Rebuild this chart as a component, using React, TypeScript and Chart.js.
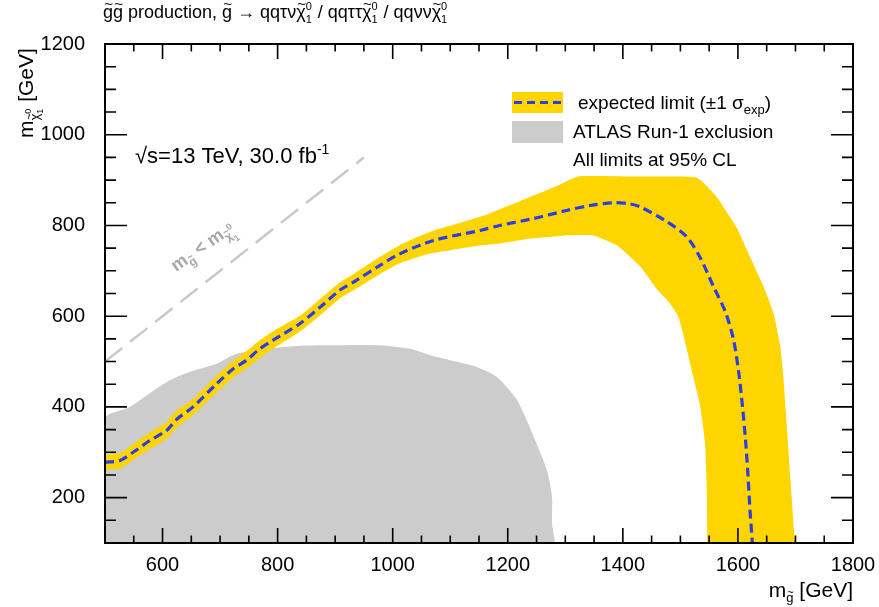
import { useEffect, useRef } from 'react';
import { Chart, registerables } from 'chart.js';

Chart.register(...registerables);

const FONT = "'Liberation Sans', Arial, Helvetica, sans-serif";

// Axis ranges and ticks
const X_RANGE = [500, 1800];
const Y_RANGE = [100, 1200];
const X_MAJOR_STEP = 200;
const Y_MAJOR_STEP = 200;
const MINOR_STEP = 50;

// Expected limit (central line)
const EXP_X = [500, 526, 549, 578, 607, 624, 653, 694, 723, 746, 769, 792, 839, 874, 908, 932, 978, 1013, 1071, 1152, 1186, 1244, 1302, 1343, 1384, 1410, 1430, 1477, 1511, 1534, 1558, 1578, 1592, 1601, 1608, 1613, 1617, 1621, 1625, 1626];
const EXP_Y = [278, 282, 300, 326, 348, 372, 400, 451, 484, 503, 528, 547, 584, 620, 657, 675, 712, 738, 767, 789, 800, 815, 833, 844, 850, 848, 841, 808, 775, 730, 664, 610, 550, 480, 400, 330, 260, 172, 100, 60];

// +1 sigma (outer) edge of the band
const BAND_UP_X = [500, 526, 549, 578, 607, 624, 653, 694, 723, 746, 769, 792, 839, 874, 908, 932, 978, 1013, 1065, 1152, 1239, 1290, 1322, 1400, 1470, 1529, 1563, 1598, 1621, 1645, 1662, 1674, 1679, 1685, 1691, 1697, 1699];
const BAND_UP_Y = [294, 298, 318, 344, 366, 392, 417, 469, 502, 523, 547, 567, 601, 638, 674, 693, 731, 757, 786, 819, 863, 890, 908, 908, 908, 905, 863, 795, 731, 664, 606, 530, 466, 356, 245, 135, 60];

// -1 sigma (inner) edge of the band
const BAND_DN_X = [500, 526, 549, 578, 607, 624, 653, 694, 723, 746, 769, 792, 839, 874, 908, 932, 978, 1013, 1065, 1152, 1186, 1239, 1302, 1349, 1390, 1430, 1459, 1482, 1496, 1506, 1517, 1534, 1543, 1546, 1547, 1547];
const BAND_DN_Y = [260, 264, 283, 307, 330, 353, 382, 432, 465, 485, 508, 528, 566, 602, 639, 657, 693, 717, 738, 756, 760, 771, 778, 778, 756, 710, 660, 628, 600, 555, 495, 405, 319, 209, 100, 60];

// ATLAS Run-1 exclusion contour
const RUN1_X = [500, 500, 543, 607, 647, 694, 729, 781, 840, 897, 978, 1030, 1065, 1110, 1146, 1181, 1216, 1245, 1268, 1277, 1277, 1282, 1284];
const RUN1_Y = [60, 374, 400, 455, 477, 495, 517, 528, 535, 536, 536, 528, 514, 500, 488, 466, 415, 334, 260, 201, 143, 100, 60];

// Kinematic limit m_gluino = m_neutralino
const DIAG_X = [500, 950];
const DIAG_Y = [500, 950];

const YELLOW = '#ffd500';
const GREY = '#cccccc';
const BLUE = '#2d3fe3';

const pts = (xs: number[], ys: number[]) => xs.map((x, i) => ({ x, y: ys[i] }));

type Seg = { t?: string; size: number; dy?: number; bold?: boolean; tilde?: boolean; sup?: string; sub?: string; supDy?: number; subDy?: number };

function fontOf(s: Seg, size?: number) {
  return `${s.bold ? 'bold ' : ''}${size ?? s.size}px ${FONT}`;
}

function richWidth(ctx: CanvasRenderingContext2D, segs: Seg[]) {
  let w = 0;
  for (const s of segs) {
    ctx.font = fontOf(s);
    if (s.t !== undefined) w += ctx.measureText(s.t).width;
    else w += Math.max(ctx.measureText(s.sup || '').width, ctx.measureText(s.sub || '').width);
  }
  return w;
}

function drawRich(ctx: CanvasRenderingContext2D, x: number, y: number, segs: Seg[]) {
  let cx = x;
  ctx.textAlign = 'left';
  ctx.textBaseline = 'alphabetic';
  for (const s of segs) {
    ctx.font = fontOf(s);
    if (s.t !== undefined) {
      const yy = y + (s.dy || 0);
      ctx.fillText(s.t, cx, yy);
      const w = ctx.measureText(s.t).width;
      if (s.tilde) {
        const ts = s.size * 0.85;
        ctx.font = fontOf(s, ts);
        const tw = ctx.measureText('~').width;
        ctx.fillText('~', cx + (w - tw) / 2 + s.size * 0.04, yy - s.size * 0.5);
      }
      cx += w;
    } else {
      const a = s.sup || '';
      const b = s.sub || '';
      ctx.fillText(a, cx, y + (s.supDy || 0));
      ctx.fillText(b, cx, y + (s.subDy || 0));
      cx += Math.max(ctx.measureText(a).width, ctx.measureText(b).width) + 1;
    }
  }
  return cx;
}

const decorPlugin = {
  id: 'decor',
  afterDraw(chart: any) {
    const ctx: CanvasRenderingContext2D = chart.ctx;
    const { left, right, top, bottom } = chart.chartArea;
    const xs = chart.scales.x;
    const ys = chart.scales.y;
    ctx.save();
    ctx.fillStyle = '#000';
    ctx.strokeStyle = '#000';

    // ticks on all four sides
    ctx.lineWidth = 1.6;
    ctx.beginPath();
    for (let v = X_RANGE[0] + MINOR_STEP; v < X_RANGE[1]; v += MINOR_STEP) {
      const px = xs.getPixelForValue(v);
      const len = v % X_MAJOR_STEP === 0 ? 15 : 7.5;
      ctx.moveTo(px, bottom); ctx.lineTo(px, bottom - len);
      ctx.moveTo(px, top); ctx.lineTo(px, top + len);
    }
    for (let v = Y_RANGE[0] + MINOR_STEP; v < Y_RANGE[1]; v += MINOR_STEP) {
      const py = ys.getPixelForValue(v);
      const len = v % Y_MAJOR_STEP === 0 ? 22 : 11;
      ctx.moveTo(left, py); ctx.lineTo(left + len, py);
      ctx.moveTo(right, py); ctx.lineTo(right - len, py);
    }
    ctx.stroke();

    // frame
    ctx.lineWidth = 2;
    ctx.strokeRect(left, top, right - left, bottom - top);

    // title
    const chi = (size: number, small: number): Seg[] => [
      { t: 'χ', size, tilde: true },
      { size: small, sup: '0', sub: '1', supDy: -8, subDy: 5 },
    ];
    drawRich(ctx, 103, 18, [
      { t: 'g', size: 18, tilde: true },
      { t: 'g', size: 18, tilde: true },
      { t: ' production, ', size: 18 },
      { t: 'g', size: 18, tilde: true },
      { t: ' \u2192 qqτν', size: 18 },
      ...chi(18, 11),
      { t: ' / qqττ', size: 18 },
      ...chi(18, 11),
      { t: ' / qqνν', size: 18 },
      ...chi(18, 11),
    ]);

    // y axis title
    ctx.save();
    ctx.translate(33, 138);
    ctx.rotate(-Math.PI / 2);
    drawRich(ctx, 0, 0, [
      { t: 'm', size: 21 },
      { t: 'χ', size: 13, dy: 6, tilde: true },
      { size: 9, sup: '0', sub: '1', supDy: -2, subDy: 10 },
      { t: ' [GeV]', size: 21 },
    ]);
    ctx.restore();

    // x axis title
    const xt: Seg[] = [
      { t: 'm', size: 21 },
      { t: 'g', size: 13, dy: 5, tilde: true },
      { t: ' [GeV]', size: 21 },
    ];
    drawRich(ctx, right - richWidth(ctx, xt), 597, xt);

    // energy / lumi
    drawRich(ctx, 135, 163, [
      { t: '\u221As=13 TeV, 30.0 fb', size: 22 },
      { t: '-1', size: 14, dy: -9 },
    ]);

    // legend
    ctx.fillStyle = YELLOW;
    ctx.fillRect(512, 92, 51, 21);
    ctx.strokeStyle = BLUE;
    ctx.lineWidth = 3;
    ctx.setLineDash([8, 5]);
    ctx.beginPath();
    ctx.moveTo(514, 102.5); ctx.lineTo(562, 102.5);
    ctx.stroke();
    ctx.setLineDash([]);
    ctx.fillStyle = GREY;
    ctx.fillRect(512, 121, 51, 22);
    ctx.fillStyle = '#000';
    drawRich(ctx, 578, 109, [
      { t: 'expected limit (\u00B11 σ', size: 19 },
      { t: 'exp', size: 13, dy: 5 },
      { t: ')', size: 19 },
    ]);
    drawRich(ctx, 573, 138, [{ t: 'ATLAS Run-1 exclusion', size: 19 }]);
    drawRich(ctx, 573, 166, [{ t: 'All limits at 95% CL', size: 19 }]);

    // kinematic limit label
    ctx.save();
    ctx.fillStyle = '#a8a8a8';
    ctx.translate(176, 272);
    ctx.rotate((-35 * Math.PI) / 180);
    drawRich(ctx, 0, 0, [
      { t: 'm', size: 18, bold: true },
      { t: 'g', size: 12, dy: 5, bold: true, tilde: true },
      { t: ' < m', size: 18, bold: true },
      { t: 'χ', size: 12, dy: 5, bold: true, tilde: true },
      { size: 9, sup: '0', sub: '1', supDy: -4, subDy: 10, bold: true },
    ]);
    ctx.restore();

    ctx.restore();
  },
};

export default function App() {
  const ref = useRef<HTMLCanvasElement>(null);
  useEffect(() => {
    const bandData = [...pts(BAND_UP_X, BAND_UP_Y), ...pts(BAND_DN_X, BAND_DN_Y).reverse()];
    const chart = new Chart(ref.current!, {
      type: 'scatter',
      data: {
        datasets: [
          {
            data: pts(EXP_X, EXP_Y),
            showLine: true,
            borderColor: BLUE,
            borderWidth: 3.2,
            borderDash: [9, 5],
            pointRadius: 0,
            tension: 0.3,
            fill: false,
            clip: 0,
          },
          {
            data: bandData,
            showLine: true,
            borderWidth: 0,
            borderColor: 'rgba(0,0,0,0)',
            backgroundColor: YELLOW,
            pointRadius: 0,
            tension: 0.15,
            fill: 'shape',
            clip: 0,
          },
          {
            data: pts(DIAG_X, DIAG_Y),
            showLine: true,
            borderColor: '#c8c8c8',
            borderWidth: 2.5,
            borderDash: [22, 10],
            pointRadius: 0,
            fill: false,
            clip: 0,
          },
          {
            data: pts(RUN1_X, RUN1_Y),
            showLine: true,
            borderWidth: 0,
            borderColor: 'rgba(0,0,0,0)',
            backgroundColor: GREY,
            pointRadius: 0,
            tension: 0.25,
            fill: 'shape',
            clip: 0,
          },
        ] as any,
      },
      options: {
        animation: false,
        responsive: false,
        devicePixelRatio: 1,
        events: [],
        layout: { padding: { left: 0, top: 44, right: 26, bottom: 0 } },
        plugins: { legend: { display: false }, tooltip: { enabled: false }, title: { display: false } },
        scales: {
          x: {
            type: 'linear',
            min: X_RANGE[0],
            max: X_RANGE[1],
            grid: { display: false },
            border: { display: false },
            ticks: {
              stepSize: X_MAJOR_STEP,
              includeBounds: false,
              color: '#000',
              padding: 2,
              maxRotation: 0,
              autoSkip: false,
              font: { family: FONT, size: 20 },
              callback: (v: any) => String(v),
            },
            afterFit: (s: any) => { s.height = 64; },
          },
          y: {
            type: 'linear',
            min: Y_RANGE[0],
            max: Y_RANGE[1],
            grid: { display: false },
            border: { display: false },
            ticks: {
              stepSize: Y_MAJOR_STEP,
              includeBounds: false,
              color: '#000',
              padding: 12,
              autoSkip: false,
              font: { family: FONT, size: 20 },
              callback: (v: any) => String(v),
            },
            afterFit: (s: any) => { s.width = 105; },
          },
        },
      } as any,
      plugins: [decorPlugin],
    });
    return () => chart.destroy();
  }, []);
  return (
    <div style={{ position: 'fixed', left: 0, top: 0, width: 879, height: 607, background: '#fff' }}>
      <canvas ref={ref} width={879} height={607} style={{ display: 'block', width: 879, height: 607 }} />
    </div>
  );
}
